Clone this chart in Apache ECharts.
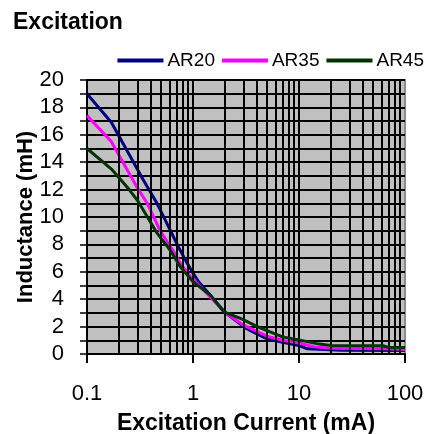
<!DOCTYPE html>
<html>
<head>
<meta charset="utf-8">
<script src="https://cdn.jsdelivr.net/npm/echarts@6/dist/echarts.min.js"></script>
<style>
html,body{margin:0;padding:0;background:#fff;}
#chart{width:430px;height:434px;}
</style>
</head>
<body>
<div id="chart"></div>
<script>
// Data (x: excitation current in mA, y: inductance in mH)
var seriesNames = ['AR20', 'AR35', 'AR45'];
var ar20 = [[0.1,19.0],[0.17,16.9],[0.34,12.7],[0.45,11.1],[0.57,9.5],[0.73,7.8],[0.85,6.85],[1,5.9],[1.13,5.27],[2,3.05],[3,2.0],[3.45,1.72],[5,1.1],[7,0.86],[10,0.62],[12,0.38],[25,0.28],[100,0.25]];
var ar35 = [[0.1,17.4],[0.17,15.5],[0.3,12.1],[0.37,11.0],[0.49,9.0],[0.68,7.3],[0.76,6.6],[0.94,5.7],[1.35,4.42],[2,3.05],[3,2.1],[5,1.3],[7,1.0],[10,0.8],[14,0.52],[20,0.42],[70,0.38],[100,0.32]];
var ar45 = [[0.1,15.0],[0.17,13.5],[0.25,12.0],[0.3,11.2],[0.46,8.8],[0.61,7.57],[0.76,6.36],[1,5.27],[1.46,4.3],[1.95,3.08],[2.8,2.6],[4.3,1.9],[7,1.25],[10,1.03],[15,0.74],[20,0.62],[62,0.6],[70,0.48],[100,0.48]];
var colors = ['#000080', '#FF00FF', '#003300'];
var xGridValues = [0.2,0.3,0.4,0.5,0.6,0.7,0.8,0.9,1,2,3,4,5,6,7,8,9,10,20,30,40,50,60,70,80,90];
var yTickLabels = ['0','2','4','6','8','10','12','14','16','18','20'];
var titleText = 'Excitation';
var xName = 'Excitation Current (mA)';
var yName = 'Inductance (mH)';

var FONT = 'Liberation Sans, Arial, sans-serif';
var chart = echarts.init(document.getElementById('chart'), null, {renderer: 'canvas'});

var dataSets = [ar20, ar35, ar45];
var series = [{
  name: 'grid',
  type: 'line',
  data: [],
  z: 1,
  silent: true,
  markLine: {
    silent: true,
    symbol: ['none', 'none'],
    label: {show: false},
    lineStyle: {color: '#000', type: 'solid', width: 2},
    emphasis: {disabled: true},
    animation: false,
    data: xGridValues.map(function (v) { return {xAxis: v}; })
  }
}];
seriesNames.forEach(function (n, i) {
  series.push({
    name: n,
    type: 'line',
    data: dataSets[i],
    z: 3 + i,
    symbol: 'none',
    lineStyle: {color: colors[i], width: 3},
    itemStyle: {color: colors[i]},
    emphasis: {disabled: true}
  });
});

chart.setOption({
  animation: false,
  backgroundColor: '#fff',
  title: {
    text: titleText,
    left: 8, top: 6,
    textStyle: {fontFamily: FONT, fontSize: 23, fontWeight: 'bold', color: '#000'}
  },
  legend: {
    data: seriesNames,
    right: 1, top: 46,
    icon: 'rect',
    itemWidth: 46, itemHeight: 4,
    itemGap: 7,
    textStyle: {fontFamily: FONT, fontSize: 19, color: '#000', padding: [0,0,0,-1]},
    selectedMode: false
  },
  grid: {
    left: 87, right: 25, top: 80, bottom: 80,
    containLabel: false,
    outerBoundsMode: 'none',
    show: true,
    backgroundColor: '#C0C0C0',
    borderColor: '#8c8c8c',
    borderWidth: 2
  },
  xAxis: {
    type: 'log',
    logBase: 10,
    min: 0.1, max: 100,
    name: xName,
    nameLocation: 'middle',
    nameGap: 58,
    nameMoveOverlap: false,
    nameTextStyle: {fontFamily: FONT, fontSize: 23, fontWeight: 'bold', color: '#000'},
    axisLine: {show: true, lineStyle: {color: '#000', width: 2}},
    axisTick: {show: true, length: 9, lineStyle: {color: '#000', width: 2}},
    axisLabel: {
      margin: 29,
      fontFamily: FONT, fontSize: 22, color: '#000',
      formatter: function (v) { return String(v); }
    },
    splitLine: {show: false}
  },
  yAxis: {
    type: 'value',
    min: 0, max: 20, interval: 1,
    name: yName,
    nameLocation: 'middle',
    nameGap: 50,
    nameMoveOverlap: false,
    nameRotate: 90,
    nameTextStyle: {fontFamily: FONT, fontSize: 22, fontWeight: 'bold', color: '#000'},
    axisLine: {show: true, lineStyle: {color: '#000', width: 2}},
    axisTick: {show: true, length: 7, lineStyle: {color: '#000', width: 1.5}},
    axisLabel: {
      margin: 23,
      fontFamily: FONT, fontSize: 22, color: '#000',
      formatter: function (v) {
        var s = String(v);
        return yTickLabels.indexOf(s) >= 0 ? s : '';
      }
    },
    splitLine: {show: true, lineStyle: {color: '#000', width: 2}}
  },
  series: series
});
</script>
</body>
</html>
